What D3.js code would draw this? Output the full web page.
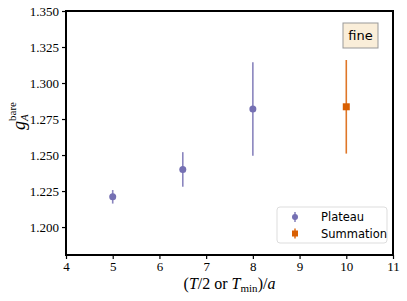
<!DOCTYPE html>
<html>
<head>
<meta charset="utf-8">
<script src="https://cdn.jsdelivr.net/npm/d3@7"></script>
<style>
  body { margin: 0; background: #fff; }
</style>
</head>
<body>
<svg id="chart" width="407" height="301"></svg>
<script>
// data
let plateau_x = [5, 6.5, 8];
let plateau_y = [1.221, 1.240, 1.282];
let plateau_err = [0.0047, 0.012, 0.0325];
let summation_x = [10];
let summation_y = [1.2835];
let summation_err = [0.0325];
let x_ticks = [4, 5, 6, 7, 8, 9, 10, 11];
let y_ticks = [1.2, 1.225, 1.25, 1.275, 1.3, 1.325, 1.35];

let purple = "#7570b3";
let orange = "#d95f02";
let serif = "'Liberation Serif', 'DejaVu Serif', serif";
let sans = "'DejaVu Sans', sans-serif";

let svg = d3.select("#chart");
let margin = { left: 66, right: 14, top: 11, bottom: 46 };
let width = +svg.attr("width") - margin.left - margin.right;
let height = +svg.attr("height") - margin.top - margin.bottom;

let x = d3.scaleLinear().domain([4, 11]).range([0, width]);
let y = d3.scaleLinear().domain([1.1806, 1.35]).range([height, 0]);

let g = svg.append("g")
  .attr("transform", "translate(" + margin.left + "," + margin.top + ")");

// axes
let xAxis = g.append("g")
  .attr("transform", "translate(0," + height + ")")
  .call(d3.axisBottom(x).tickValues(x_ticks).tickFormat(d3.format("d")).tickSize(4).tickPadding(3));
let yAxis = g.append("g")
  .call(d3.axisLeft(y).tickValues(y_ticks).tickFormat(d3.format(".3f")).tickSize(4).tickPadding(3));
[xAxis, yAxis].forEach(function (a) {
  a.select(".domain").remove();
  a.selectAll(".tick line").attr("stroke", "#000").attr("stroke-width", 1.2);
  a.selectAll(".tick text")
    .attr("fill", "#000")
    .style("font-family", serif)
    .style("font-size", "13px");
});

let plateau = plateau_x.map(function (d, i) {
  return { x: d, y: plateau_y[i], e: plateau_err[i] };
});
let summation = summation_x.map(function (d, i) {
  return { x: d, y: summation_y[i], e: summation_err[i] };
});

// plateau points
g.selectAll(".pbar").data(plateau).enter().append("line")
  .attr("x1", d => x(d.x)).attr("x2", d => x(d.x))
  .attr("y1", d => y(d.y - d.e)).attr("y2", d => y(d.y + d.e))
  .attr("stroke", purple).attr("stroke-opacity", 0.85).attr("stroke-width", 1.6);
g.selectAll(".pdot").data(plateau).enter().append("circle")
  .attr("cx", d => x(d.x)).attr("cy", d => y(d.y)).attr("r", 3.5)
  .attr("fill", purple);

// summation point
g.selectAll(".sbar").data(summation).enter().append("line")
  .attr("x1", d => x(d.x)).attr("x2", d => x(d.x))
  .attr("y1", d => y(d.y - d.e)).attr("y2", d => y(d.y + d.e))
  .attr("stroke", orange).attr("stroke-opacity", 0.85).attr("stroke-width", 1.6);
g.selectAll(".sdot").data(summation).enter().append("rect")
  .attr("x", d => x(d.x) - 3.5).attr("y", d => y(d.y) - 3.5)
  .attr("width", 7).attr("height", 7)
  .attr("fill", orange);

// frame
g.append("rect")
  .attr("width", width).attr("height", height)
  .attr("fill", "none").attr("stroke", "#000").attr("stroke-width", 2);

// "fine" tag
let tag = g.append("g").attr("transform", "translate(" + (width - 50) + ",12)");
tag.append("rect").attr("width", 35).attr("height", 25)
  .attr("fill", "#faeed9").attr("stroke", "#999").attr("stroke-width", 1);
tag.append("text").attr("x", 17.5).attr("y", 17).attr("text-anchor", "middle")
  .style("font-family", sans).style("font-size", "13px").text("fine");

// legend
let legend = g.append("g")
  .attr("transform", "translate(" + (width - 116) + "," + (height - 48) + ")");
legend.append("rect").attr("width", 110).attr("height", 36).attr("rx", 3)
  .attr("fill", "#fff").attr("fill-opacity", 0.85).attr("stroke", "#ddd");
let items = [
  { label: "Plateau", color: purple, shape: "circle" },
  { label: "Summation", color: orange, shape: "square" }
];
items.forEach(function (it, i) {
  let row = legend.append("g").attr("transform", "translate(18," + (10 + i * 16.5) + ")");
  row.append("line").attr("y1", -5).attr("y2", 5)
    .attr("stroke", it.color).attr("stroke-opacity", 0.85).attr("stroke-width", 1.6);
  if (it.shape === "circle") {
    row.append("circle").attr("r", 3).attr("fill", it.color);
  } else {
    row.append("rect").attr("x", -3).attr("y", -3).attr("width", 6).attr("height", 6).attr("fill", it.color);
  }
  row.append("text").attr("x", 26).attr("y", 4)
    .style("font-family", sans).style("font-size", "11.5px").attr("fill", "#000").text(it.label);
});

// x label
let xl = svg.append("text")
  .attr("x", margin.left + width / 2).attr("y", 289)
  .attr("text-anchor", "middle")
  .style("font-family", serif)
  .style("font-size", "16px");
xl.append("tspan").text("(");
xl.append("tspan").attr("font-style", "italic").text("T");
xl.append("tspan").text("/2 or ");
xl.append("tspan").attr("font-style", "italic").text("T");
xl.append("tspan").style("font-size", "11px").attr("dy", 3).text("min");
xl.append("tspan").attr("dy", -3).text(")/");
xl.append("tspan").attr("font-style", "italic").text("a");

// y label
let yl = svg.append("g").attr("transform", "translate(25,118) rotate(-90)")
  .style("font-family", serif);
yl.append("text").attr("x", -12).attr("y", 0).style("font-size", "18px")
  .attr("font-style", "italic").text("g");
yl.append("text").attr("x", -3).attr("y", 3).style("font-size", "11px")
  .attr("font-style", "italic").text("A");
yl.append("text").attr("x", -3).attr("y", -9).style("font-size", "11px").text("bare");
</script>
</body>
</html>
